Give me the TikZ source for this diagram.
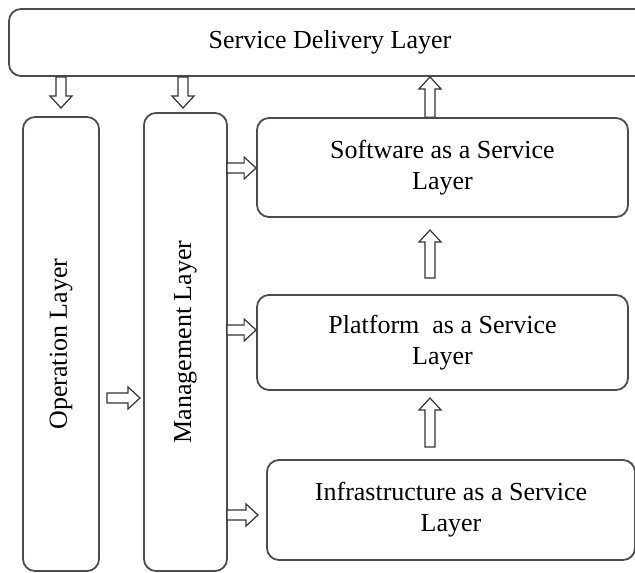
\documentclass[tikz,border=0pt]{standalone}
\usepackage{fontspec}
\setmainfont{Liberation Serif}
\usetikzlibrary{calc}

\begin{document}
\begin{tikzpicture}[x=1pt,y=-1pt,
    layer/.style={draw=black!70, line width=1.8pt, rounded corners=12pt, align=center,
      inner sep=0pt, font=\fontsize{26}{31}\selectfont},
    hollow/.style={draw=black!80, line width=1.2pt, fill=white, to path={
      ($(\tikztostart)!5pt!90:(\tikztotarget)$)
      -- ($(\tikztotarget)!12pt!(\tikztostart)!5pt!-90:(\tikztostart)$)
      -- ($(\tikztotarget)!12pt!(\tikztostart)!11pt!-90:(\tikztostart)$)
      -- (\tikztotarget)
      -- ($(\tikztotarget)!12pt!(\tikztostart)!11pt!90:(\tikztostart)$)
      -- ($(\tikztotarget)!12pt!(\tikztostart)!5pt!90:(\tikztostart)$)
      -- ($(\tikztostart)!5pt!-90:(\tikztotarget)$) -- cycle}}]
    \clip (0,0) rectangle (635,573);
    \fill[white] (0,0) rectangle (635,573);

        \node[layer, minimum width=642pt, minimum height=67pt] (sdl) at (330,42.5) {Service Delivery Layer};
        \node[layer, rotate=90, minimum width=454pt, minimum height=76pt] (op) at (61,344) {Operation Layer};
        \node[layer, rotate=90, minimum width=458pt, minimum height=83pt] (mgmt) at (185.5,342) {Management Layer};
        \node[layer, minimum width=371pt, minimum height=99pt] (saas) at (442.5,167.5) {Software as a Service\\Layer};
        \node[layer, minimum width=371pt, minimum height=95pt] (paas) at (442.5,342.5) {Platform\ \ as a Service\\Layer};
        \node[layer, minimum width=368pt, minimum height=100pt] (iaas) at (451,510) {Infrastructure as a Service\\Layer};

        \coordinate (spine) at (430,0);
        \coordinate (opin) at (61,108);
        \coordinate (mgin) at (183,108);
        \coordinate (opout) at (107,398);
        \coordinate (mgop) at (140,398);
        \coordinate (pstart) at (430,278);
        \coordinate (pend) at (430,230);
        \coordinate (istart) at (430,447);
        \coordinate (iend) at (430,398);
        \coordinate (sa) at (227,168);
        \coordinate (pa) at (227,330);
        \coordinate (ia) at (227,515);
        \coordinate (iatip) at (258,515);

            \draw[hollow] (sdl.south -| opin) to (opin);
            \draw[hollow] (sdl.south -| mgin) to (mgin);
            \draw[hollow] (saas.north -| spine) to (sdl.south -| spine);
            \draw[hollow] (pstart) to (pend);
            \draw[hollow] (istart) to (iend);
            \draw[hollow] (opout) to (mgop);
            \draw[hollow] (sa) to (saas.west |- sa);
            \draw[hollow] (pa) to (paas.west |- pa);
            \draw[hollow] (ia) to (iatip);

    \end{tikzpicture}
\end{document}
